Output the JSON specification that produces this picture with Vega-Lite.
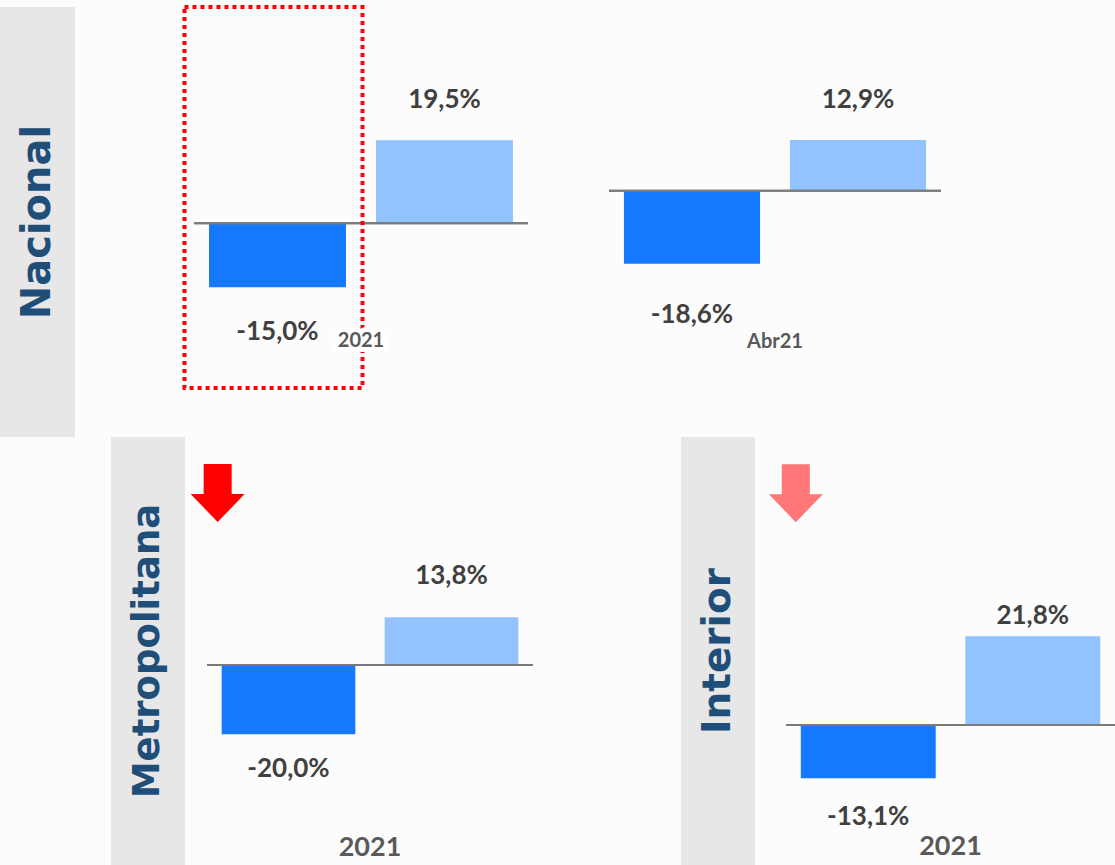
{
  "$schema": "https://vega.github.io/schema/vega-lite/v6.json",
  "background": "#fcfcfc",
  "padding": {"top": 5, "left": 0, "right": 0, "bottom": 0},
  "spacing": 0,
  "config": {
    "view": {"stroke": null},
    "locale": {"number": {"decimal": ",", "thousands": ".", "grouping": [3], "currency": ["", " €"], "minus": "-"}},
    "range": {"category": ["#1479ff", "#92c3ff"]},
    "text": {"font": "Lato", "fontWeight": "bold"}
  },
  "vconcat": [
    {
      "bounds": "flush",
      "spacing": 0,
      "hconcat": [
        {
          "width": 75, "height": 430,
          "view": {"fill": "#e7e7e7", "stroke": null},
          "data": {"values": [{"regiao": "Nacional"}]},
          "mark": {"type": "text", "angle": 270, "font": "DejaVu Sans", "fontWeight": "bold", "fontSize": 40, "fill": "#1f4e79", "align": "center", "baseline": "middle"},
          "encoding": {"text": {"field": "regiao"}}
        },
        {
          "width": 119, "height": 430,
          "view": {"fill": "#fcfcfc", "stroke": null},
          "data": {"values": []},
          "mark": {"type": "text"},
          "encoding": {}
        },
        {
          "width": 334, "height": 430,
          "data": {"values": [{"barra": "1", "valor": -0.150}, {"barra": "2", "valor": 0.195}]},
          "layer": [
            {
              "mark": {"type": "bar"},
              "encoding": {
                "x": {"field": "barra", "type": "nominal", "axis": null, "scale": {"paddingInner": 0.18, "paddingOuter": 0.09}},
                "y": {"field": "valor", "type": "quantitative", "axis": null, "scale": {"domain": [-0.502, 0.508], "nice": false}},
                "color": {"field": "barra", "type": "nominal", "legend": null}
              }
            },
            {
              "mark": {"type": "rule", "color": "#7a7a7a", "strokeWidth": 2},
              "encoding": {"y": {"datum": 0, "type": "quantitative", "scale": {"domain": [-0.502, 0.508], "nice": false}}}
            },
            {
              "transform": [{"filter": "datum.barra === '1'"}],
              "mark": {"type": "bar", "fill": "transparent", "stroke": "#ff0000", "strokeWidth": 4, "strokeDash": [4, 4], "width": {"band": 1.3}, "xOffset": -4},
              "encoding": {
                "x": {"field": "barra", "type": "nominal", "axis": null},
                "y": {"datum": 0.508, "type": "quantitative", "scale": {"domain": [-0.502, 0.508], "nice": false}},
                "y2": {"datum": -0.387}
              }
            },
            {
              "transform": [{"filter": "datum.valor > 0"}],
              "mark": {"type": "text", "fontSize": 26, "fill": "#404040", "baseline": "middle", "dy": -40},
              "encoding": {
                "x": {"field": "barra", "type": "nominal", "axis": null},
                "y": {"field": "valor", "type": "quantitative", "scale": {"domain": [-0.502, 0.508], "nice": false}},
                "text": {"field": "valor", "type": "quantitative", "format": ".1%"}
              }
            },
            {
              "transform": [{"filter": "datum.valor < 0"}],
              "mark": {"type": "text", "fontSize": 26, "fill": "#404040", "baseline": "middle", "dy": 45},
              "encoding": {
                "x": {"field": "barra", "type": "nominal", "axis": null},
                "y": {"field": "valor", "type": "quantitative", "scale": {"domain": [-0.502, 0.508], "nice": false}},
                "text": {"field": "valor", "type": "quantitative", "format": ".1%"}
              }
            },
            {
              "data": {"values": [{"periodo": "2021"}]},
              "mark": {"type": "text", "fontSize": 20, "fill": "#ffffff", "stroke": "#ffffff", "strokeWidth": 10, "strokeJoin": "round", "baseline": "middle"},
              "encoding": {
                "y": {"datum": -0.276, "type": "quantitative", "scale": {"domain": [-0.502, 0.508], "nice": false}},
                "text": {"field": "periodo"}
              }
            },
            {
              "data": {"values": [{"periodo": "2021"}]},
              "mark": {"type": "text", "fontSize": 20, "fill": "#595959", "baseline": "middle"},
              "encoding": {
                "y": {"datum": -0.276, "type": "quantitative", "scale": {"domain": [-0.502, 0.508], "nice": false}},
                "text": {"field": "periodo"}
              }
            }
          ]
        },
        {
          "width": 81, "height": 430,
          "view": {"fill": "#fcfcfc", "stroke": null},
          "data": {"values": []},
          "mark": {"type": "text"},
          "encoding": {}
        },
        {
          "width": 332, "height": 430,
          "data": {"values": [{"barra": "1", "valor": -0.186}, {"barra": "2", "valor": 0.129}]},
          "layer": [
            {
              "mark": {"type": "bar"},
              "encoding": {
                "x": {"field": "barra", "type": "nominal", "axis": null, "scale": {"paddingInner": 0.18, "paddingOuter": 0.09}},
                "y": {"field": "valor", "type": "quantitative", "axis": null, "scale": {"domain": [-0.6267, 0.4674], "nice": false}},
                "color": {"field": "barra", "type": "nominal", "legend": null}
              }
            },
            {
              "mark": {"type": "rule", "color": "#7a7a7a", "strokeWidth": 2},
              "encoding": {"y": {"datum": 0, "type": "quantitative", "scale": {"domain": [-0.6267, 0.4674], "nice": false}}}
            },
            {
              "transform": [{"filter": "datum.valor > 0"}],
              "mark": {"type": "text", "fontSize": 26, "fill": "#404040", "baseline": "middle", "dy": -40},
              "encoding": {
                "x": {"field": "barra", "type": "nominal", "axis": null},
                "y": {"field": "valor", "type": "quantitative", "scale": {"domain": [-0.6267, 0.4674], "nice": false}},
                "text": {"field": "valor", "type": "quantitative", "format": ".1%"}
              }
            },
            {
              "transform": [{"filter": "datum.valor < 0"}],
              "mark": {"type": "text", "fontSize": 26, "fill": "#404040", "baseline": "middle", "dy": 51},
              "encoding": {
                "x": {"field": "barra", "type": "nominal", "axis": null},
                "y": {"field": "valor", "type": "quantitative", "scale": {"domain": [-0.6267, 0.4674], "nice": false}},
                "text": {"field": "valor", "type": "quantitative", "format": ".1%"}
              }
            },
            {
              "data": {"values": [{"periodo": "Abr21"}]},
              "mark": {"type": "text", "fontSize": 20, "fill": "#595959", "baseline": "middle"},
              "encoding": {
                "y": {"datum": -0.385, "type": "quantitative", "scale": {"domain": [-0.6267, 0.4674], "nice": false}},
                "text": {"field": "periodo"}
              }
            }
          ]
        }
      ]
    },
    {
      "bounds": "flush",
      "spacing": 0,
      "hconcat": [
        {
          "width": 111, "height": 428,
          "view": {"fill": "#fcfcfc", "stroke": null},
          "data": {"values": []},
          "mark": {"type": "text"},
          "encoding": {}
        },
        {
          "width": 74, "height": 428,
          "view": {"fill": "#e7e7e7", "stroke": null},
          "data": {"values": [{"regiao": "Metropolitana"}]},
          "mark": {"type": "text", "angle": 270, "font": "DejaVu Sans", "fontWeight": "bold", "fontSize": 37, "fill": "#1f4e79", "align": "center", "baseline": "middle"},
          "encoding": {"text": {"field": "regiao"}}
        },
        {
          "width": 22, "height": 428,
          "view": {"fill": "#fcfcfc", "stroke": null},
          "data": {"values": []},
          "mark": {"type": "text"},
          "encoding": {}
        },
        {
          "width": 326, "height": 428,
          "data": {"values": [{"barra": "1", "valor": -0.200}, {"barra": "2", "valor": 0.138}]},
          "layer": [
            {
              "mark": {"type": "bar"},
              "encoding": {
                "x": {"field": "barra", "type": "nominal", "axis": null, "scale": {"paddingInner": 0.18, "paddingOuter": 0.09}},
                "y": {"field": "valor", "type": "quantitative", "axis": null, "scale": {"domain": [-0.578, 0.659], "nice": false}},
                "color": {"field": "barra", "type": "nominal", "legend": null}
              }
            },
            {
              "mark": {"type": "rule", "color": "#7a7a7a", "strokeWidth": 2},
              "encoding": {"y": {"datum": 0, "type": "quantitative", "scale": {"domain": [-0.578, 0.659], "nice": false}}}
            },
            {
              "transform": [{"filter": "datum.barra === '1'"}],
              "mark": {"type": "point", "filled": true, "opacity": 1, "fill": "#ff0000", "strokeWidth": 0, "size": 3364, "shape": "M-0.483,-1L0.483,-1L0.483,0.034L0.931,0.034L0,1L-0.931,0.034L-0.483,0.034Z"},
              "encoding": {
                "x": {"field": "barra", "type": "nominal", "axis": null, "bandPosition": -0.03},
                "y": {"datum": 0.497, "type": "quantitative", "scale": {"domain": [-0.578, 0.659], "nice": false}}
              }
            },
            {
              "transform": [{"filter": "datum.valor > 0"}],
              "mark": {"type": "text", "fontSize": 26, "fill": "#404040", "baseline": "middle", "dy": -41},
              "encoding": {
                "x": {"field": "barra", "type": "nominal", "axis": null},
                "y": {"field": "valor", "type": "quantitative", "scale": {"domain": [-0.578, 0.659], "nice": false}},
                "text": {"field": "valor", "type": "quantitative", "format": ".1%"}
              }
            },
            {
              "transform": [{"filter": "datum.valor < 0"}],
              "mark": {"type": "text", "fontSize": 26, "fill": "#404040", "baseline": "middle", "dy": 35},
              "encoding": {
                "x": {"field": "barra", "type": "nominal", "axis": null},
                "y": {"field": "valor", "type": "quantitative", "scale": {"domain": [-0.578, 0.659], "nice": false}},
                "text": {"field": "valor", "type": "quantitative", "format": ".1%"}
              }
            },
            {
              "data": {"values": [{"periodo": "2021"}]},
              "mark": {"type": "text", "fontSize": 27, "fill": "#595959", "baseline": "middle"},
              "encoding": {
                "y": {"datum": -0.529, "type": "quantitative", "scale": {"domain": [-0.578, 0.659], "nice": false}},
                "text": {"field": "periodo"}
              }
            }
          ]
        },
        {
          "width": 148, "height": 428,
          "view": {"fill": "#fcfcfc", "stroke": null},
          "data": {"values": []},
          "mark": {"type": "text"},
          "encoding": {}
        },
        {
          "width": 74, "height": 428,
          "view": {"fill": "#e7e7e7", "stroke": null},
          "data": {"values": [{"regiao": "Interior"}]},
          "mark": {"type": "text", "angle": 270, "font": "DejaVu Sans", "fontWeight": "bold", "fontSize": 39, "fill": "#1f4e79", "align": "center", "baseline": "middle"},
          "encoding": {"text": {"field": "regiao"}}
        },
        {
          "width": 31, "height": 428,
          "view": {"fill": "#fcfcfc", "stroke": null},
          "data": {"values": []},
          "mark": {"type": "text"},
          "encoding": {}
        },
        {
          "width": 329, "height": 428,
          "data": {"values": [{"barra": "1", "valor": -0.131}, {"barra": "2", "valor": 0.218}]},
          "layer": [
            {
              "mark": {"type": "bar"},
              "encoding": {
                "x": {"field": "barra", "type": "nominal", "axis": null, "scale": {"paddingInner": 0.18, "paddingOuter": 0.09}},
                "y": {"field": "valor", "type": "quantitative", "axis": null, "scale": {"domain": [-0.344, 0.708], "nice": false}},
                "color": {"field": "barra", "type": "nominal", "legend": null}
              }
            },
            {
              "mark": {"type": "rule", "color": "#7a7a7a", "strokeWidth": 2},
              "encoding": {"y": {"datum": 0, "type": "quantitative", "scale": {"domain": [-0.344, 0.708], "nice": false}}}
            },
            {
              "transform": [{"filter": "datum.barra === '1'"}],
              "mark": {"type": "point", "filled": true, "opacity": 1, "fill": "#ff7777", "strokeWidth": 0, "size": 3364, "shape": "M-0.483,-1L0.483,-1L0.483,0.034L0.931,0.034L0,1L-0.931,0.034L-0.483,0.034Z"},
              "encoding": {
                "x": {"field": "barra", "type": "nominal", "axis": null, "bandPosition": -0.037},
                "y": {"datum": 0.57, "type": "quantitative", "scale": {"domain": [-0.344, 0.708], "nice": false}}
              }
            },
            {
              "transform": [{"filter": "datum.valor > 0"}],
              "mark": {"type": "text", "fontSize": 26, "fill": "#404040", "baseline": "middle", "dy": -20},
              "encoding": {
                "x": {"field": "barra", "type": "nominal", "axis": null},
                "y": {"field": "valor", "type": "quantitative", "scale": {"domain": [-0.344, 0.708], "nice": false}},
                "text": {"field": "valor", "type": "quantitative", "format": ".1%"}
              }
            },
            {
              "transform": [{"filter": "datum.valor < 0"}],
              "mark": {"type": "text", "fontSize": 26, "fill": "#404040", "baseline": "middle", "dy": 39},
              "encoding": {
                "x": {"field": "barra", "type": "nominal", "axis": null},
                "y": {"field": "valor", "type": "quantitative", "scale": {"domain": [-0.344, 0.708], "nice": false}},
                "text": {"field": "valor", "type": "quantitative", "format": ".1%"}
              }
            },
            {
              "data": {"values": [{"periodo": "2021"}]},
              "mark": {"type": "text", "fontSize": 27, "fill": "#595959", "baseline": "middle"},
              "encoding": {
                "y": {"datum": -0.30, "type": "quantitative", "scale": {"domain": [-0.344, 0.708], "nice": false}},
                "text": {"field": "periodo"}
              }
            }
          ]
        }
      ]
    }
  ]
}
